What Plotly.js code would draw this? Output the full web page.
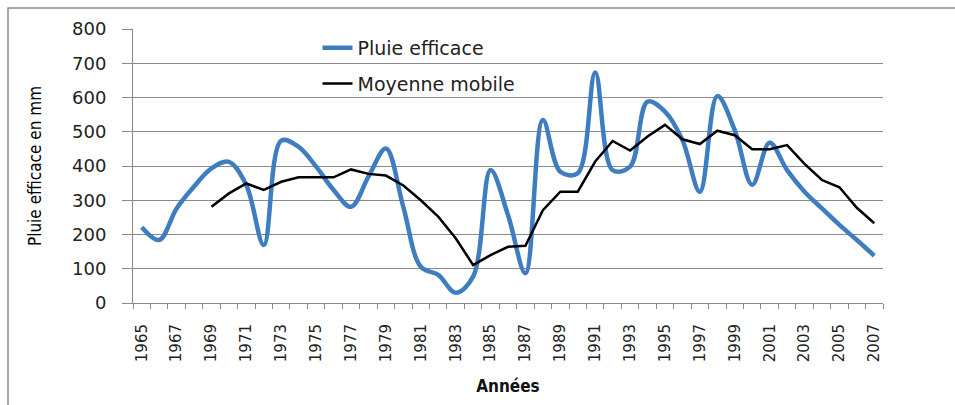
<!DOCTYPE html>
<html>
<head>
<meta charset="utf-8">
<script src="https://cdn.plot.ly/plotly-3.0.1.min.js"></script>
<style>
  html, body { margin: 0; padding: 0; background: #ffffff; }
  #chart { width: 955px; height: 405px; }
</style>
</head>
<body>
<div id="chart"></div>
<script>
const years = [1965,1966,1967,1968,1969,1970,1971,1972,1973,1974,1975,1976,1977,1978,1979,1980,
  1981,1982,1983,1984,1985,1986,1987,1988,1989,1990,1991,1992,1993,1994,1995,1996,1997,
  1998,1999,2000,2001,2002,2003,2004,2005,2006,2007];

const pluieEfficace = [221,184,276,340,393,412,344,169,474,456,398,330,281,369,451,280,
  106,82,30,77,388,257,87,534,383,379,673,388,398,588,559,476,325,
  604,505,345,468,388,325,276,228,184,138];

const moyenneMobile = [null,null,null,null,281,320,349,330,354,367,367,367,390,377,372,343,
  300,252,189,111,140,164,167,271,325,325,413,473,445,486,520,478,464,
  503,490,449,449,461,406,359,338,278,233];

const seriesNames = ["Pluie efficace", "Moyenne mobile"];
const yTicks = [0,100,200,300,400,500,600,700,800];

const traces = [
  {
    x: years, y: pluieEfficace, name: seriesNames[0], type: "scatter", mode: "lines",
    line: { color: "#3F7DC1", width: 4.5, shape: "spline", smoothing: 1 },
    legendgroup: "a"
  },
  {
    x: years, y: moyenneMobile, name: seriesNames[1], type: "scatter", mode: "lines",
    line: { color: "#000000", width: 2.5 },
    connectgaps: false, legendgroup: "b"
  }
];

const gray = "#8a8a8a";
const layout = {
  width: 955, height: 405,
  margin: { l: 133, r: 72, t: 29, b: 102 },
  paper_bgcolor: "#ffffff", plot_bgcolor: "#ffffff",
  showlegend: true,
  legend: {
    x: 0.246, y: 1.0, xanchor: "left", yanchor: "top",
    bgcolor: "rgba(0,0,0,0)", traceorder: "grouped", tracegroupgap: 8,
    font: { family: "DejaVu Sans, sans-serif", size: 19, color: "#222" }
  },
  xaxis: {
    type: "linear", range: [1964.5, 2007.5], tickmode: "linear", tick0: 1965, dtick: 2,
    ticks: "", tickangle: -90, ticklabelstandoff: 14,
    tickfont: { family: "DejaVu Sans, sans-serif", size: 15, color: "#222" },
    showgrid: false, zeroline: false, showline: true, linecolor: gray, linewidth: 1,
    minor: { tickmode: "linear", tick0: 1964.5, dtick: 1, ticks: "outside", ticklen: 5,
             tickcolor: gray, tickwidth: 1, showgrid: false },
    title: { text: "Années", standoff: 18,
             font: { family: "Liberation Sans Narrow, DejaVu Sans Condensed, sans-serif", size: 17, color: "#111", weight: "bold" } },
    automargin: false, fixedrange: true
  },
  yaxis: {
    range: [0, 800], tickmode: "array", tickvals: yTicks, ticktext: yTicks.map(String),
    ticks: "outside", ticklen: 10, tickcolor: gray, tickwidth: 1, ticklabelstandoff: 12,
    tickfont: { family: "DejaVu Sans, sans-serif", size: 18, color: "#222" },
    showgrid: true, gridcolor: gray, gridwidth: 1, zeroline: false,
    showline: true, linecolor: gray, linewidth: 1,
    title: { text: "Pluie efficace en mm", standoff: 26,
             font: { family: "Liberation Sans Narrow, DejaVu Sans Condensed, sans-serif", size: 17, color: "#000" } },
    automargin: false, fixedrange: true
  },
  shapes: [
    { type: "rect", xref: "paper", yref: "paper",
      x0: (8 - 133) / 750, x1: 1.2, y0: -0.5, y1: (303 - 8) / 274,
      line: { color: "#8c8c8c", width: 1.5 }, fillcolor: "rgba(0,0,0,0)", layer: "below" }
  ]
};

Plotly.newPlot("chart", traces, layout, { staticPlot: true, displayModeBar: false });
</script>
</body>
</html>
